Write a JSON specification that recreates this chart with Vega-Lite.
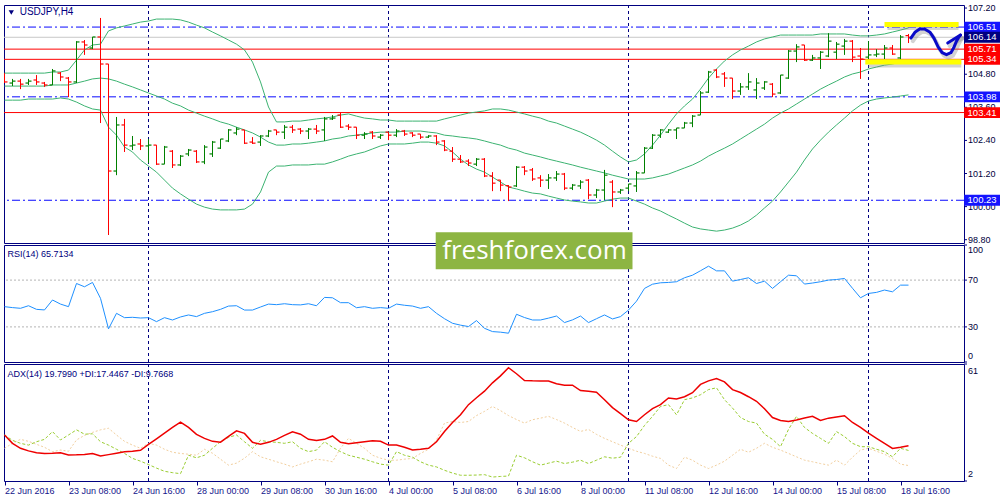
{
"$schema": "https://vega.github.io/schema/vega-lite/v6.json",
"background": "white",
"padding": {"left": 3, "top": 3, "right": 0, "bottom": 0},
"spacing": 2,
"bounds": "flush",
"config": {
  "font": "Liberation Sans",
  "view": {"stroke": "#000080", "strokeWidth": 1},
  "axis": {"labelFont": "Liberation Sans", "labelFontSize": 9, "labelColor": "#00003c", "tickColor": "#000080", "domain": false, "grid": false, "tickSize": 3, "labelPadding": 2}
},
"datasets": {
  "weeks": [{"i":18},{"i":48},{"i":78},{"i":108}],
  "rsilev": [{"v":70},{"v":30}],
  "pticks": [{"p":98.8},{"p":100},{"p":101.2},{"p":102.4},{"p":103.6},{"p":104.8},{"p":107.2}],
  "levels": [
    {"p":106.51,"k":"blue"},{"p":106.14,"k":"cur"},{"p":105.71,"k":"red"},{"p":105.34,"k":"red"},
    {"p":103.98,"k":"blue"},{"p":103.41,"k":"red"},{"p":100.23,"k":"blue"}
  ],
  "zones": [
    {"a":110,"b":119.25,"lo":106.51,"hi":106.69},
    {"a":107.6,"b":119.6,"lo":105.15,"hi":105.34}
  ],
  "arrow": [
    {"s":"c","o":0,"i":113.3,"p":106.11},{"s":"c","o":1,"i":113.8,"p":106.32},{"s":"c","o":2,"i":114.4,"p":106.44},
    {"s":"c","o":3,"i":115.0,"p":106.44},{"s":"c","o":4,"i":115.7,"p":106.32},{"s":"c","o":5,"i":116.2,"p":106.10},
    {"s":"c","o":6,"i":116.7,"p":105.79},{"s":"c","o":7,"i":117.2,"p":105.58},{"s":"c","o":8,"i":117.75,"p":105.51},
    {"s":"c","o":9,"i":118.3,"p":105.58},{"s":"c","o":10,"i":118.7,"p":105.79},{"s":"c","o":11,"i":119.0,"p":106.00},
    {"s":"c","o":12,"i":119.3,"p":106.15},{"s":"c","o":13,"i":119.5,"p":106.22},
    {"s":"w","o":0,"i":117.9,"p":105.93},{"s":"w","o":1,"i":119.5,"p":106.22}
  ],
  "bars": [
{"i":0,"o":104.59,"h":104.84,"l":104.48,"c":104.52,"bu":104.84,"bm":104.37,"bl":103.86,"rsi":47.3,"adx":25.2,"pdi":25.2,"mdi":18.5},
{"i":1,"o":104.48,"h":104.63,"l":104.37,"c":104.55,"bu":104.84,"bm":104.37,"bl":103.86,"rsi":46.5,"adx":21.0,"pdi":22.5,"mdi":21.0},
{"i":2,"o":104.55,"h":104.63,"l":104.26,"c":104.44,"bu":104.84,"bm":104.37,"bl":103.86,"rsi":45.9,"adx":18.5,"pdi":21.0,"mdi":23.0},
{"i":3,"o":104.48,"h":104.63,"l":104.41,"c":104.55,"bu":104.84,"bm":104.37,"bl":103.90,"rsi":48.1,"adx":17.2,"pdi":20.1,"mdi":22.0},
{"i":4,"o":104.59,"h":104.77,"l":104.41,"c":104.52,"bu":104.84,"bm":104.37,"bl":103.90,"rsi":45.0,"adx":16.2,"pdi":21.8,"mdi":20.5},
{"i":5,"o":104.48,"h":104.52,"l":104.34,"c":104.41,"bu":104.84,"bm":104.37,"bl":103.90,"rsi":44.5,"adx":15.9,"pdi":23.0,"mdi":19.0},
{"i":6,"o":104.41,"h":104.99,"l":104.41,"c":104.92,"bu":104.88,"bm":104.41,"bl":103.90,"rsi":53.0,"adx":16.0,"pdi":26.9,"mdi":16.8},
{"i":7,"o":104.84,"h":104.88,"l":104.55,"c":104.70,"bu":104.88,"bm":104.41,"bl":103.94,"rsi":49.5,"adx":16.2,"pdi":22.7,"mdi":17.6},
{"i":8,"o":104.66,"h":104.70,"l":103.97,"c":104.52,"bu":104.95,"bm":104.41,"bl":103.90,"rsi":47.3,"adx":15.1,"pdi":25.2,"mdi":17.0},
{"i":9,"o":104.52,"h":106.00,"l":104.48,"c":105.97,"bu":105.31,"bm":104.48,"bl":103.79,"rsi":67.1,"adx":15.2,"pdi":27.8,"mdi":22.7},
{"i":10,"o":105.97,"h":106.04,"l":105.50,"c":105.86,"bu":105.68,"bm":104.55,"bl":103.65,"rsi":64.3,"adx":15.4,"pdi":25.6,"mdi":25.0},
{"i":11,"o":105.75,"h":106.15,"l":105.71,"c":106.15,"bu":105.86,"bm":104.63,"bl":103.54,"rsi":68.0,"adx":15.9,"pdi":25.8,"mdi":26.5},
{"i":12,"o":106.15,"h":106.84,"l":103.03,"c":105.17,"bu":105.89,"bm":104.66,"bl":103.50,"rsi":54.4,"adx":14.6,"pdi":21.8,"mdi":27.8},
{"i":13,"o":105.17,"h":105.17,"l":98.97,"c":101.29,"bu":106.37,"bm":104.63,"bl":102.88,"rsi":28.3,"adx":15.3,"pdi":20.1,"mdi":28.6},
{"i":14,"o":101.29,"h":103.25,"l":101.14,"c":102.96,"bu":106.48,"bm":104.55,"bl":102.59,"rsi":41.6,"adx":16.0,"pdi":18.0,"mdi":25.2},
{"i":15,"o":102.96,"h":103.18,"l":101.98,"c":102.23,"bu":106.55,"bm":104.44,"bl":102.16,"rsi":37.9,"adx":16.7,"pdi":15.9,"mdi":22.0},
{"i":16,"o":102.20,"h":102.56,"l":102.05,"c":102.23,"bu":106.62,"bm":104.34,"bl":101.98,"rsi":38.2,"adx":17.0,"pdi":13.4,"mdi":20.1},
{"i":17,"o":102.27,"h":102.45,"l":102.05,"c":102.20,"bu":106.69,"bm":104.23,"bl":101.69,"rsi":37.6,"adx":17.5,"pdi":12.0,"mdi":18.5},
{"i":18,"o":102.20,"h":102.45,"l":101.58,"c":102.23,"bu":106.73,"bm":104.12,"bl":101.47,"rsi":37.9,"adx":20.5,"pdi":10.3,"mdi":21.0},
{"i":19,"o":102.23,"h":102.23,"l":101.51,"c":101.54,"bu":106.80,"bm":104.01,"bl":101.25,"rsi":34.5,"adx":23.3,"pdi":8.5,"mdi":20.1},
{"i":20,"o":101.54,"h":102.20,"l":101.54,"c":102.16,"bu":106.80,"bm":103.90,"bl":100.96,"rsi":37.9,"adx":26.1,"pdi":6.9,"mdi":18.0},
{"i":21,"o":102.01,"h":102.05,"l":101.40,"c":101.51,"bu":106.80,"bm":103.75,"bl":100.67,"rsi":35.9,"adx":29.0,"pdi":6.2,"mdi":16.5},
{"i":22,"o":101.51,"h":101.87,"l":101.47,"c":101.83,"bu":106.77,"bm":103.65,"bl":100.46,"rsi":38.5,"adx":31.7,"pdi":5.7,"mdi":15.9},
{"i":23,"o":101.91,"h":102.09,"l":101.83,"c":102.05,"bu":106.69,"bm":103.50,"bl":100.27,"rsi":40.2,"adx":29.0,"pdi":15.0,"mdi":15.5},
{"i":24,"o":102.01,"h":102.05,"l":101.58,"c":101.62,"bu":106.58,"bm":103.39,"bl":100.09,"rsi":38.8,"adx":25.5,"pdi":13.7,"mdi":15.0},
{"i":25,"o":101.62,"h":102.23,"l":101.54,"c":102.16,"bu":106.48,"bm":103.28,"bl":99.98,"rsi":41.6,"adx":23.5,"pdi":15.0,"mdi":18.0},
{"i":26,"o":101.91,"h":102.38,"l":101.80,"c":102.34,"bu":106.33,"bm":103.18,"bl":99.91,"rsi":43.0,"adx":22.0,"pdi":18.5,"mdi":16.0},
{"i":27,"o":102.12,"h":102.45,"l":102.09,"c":102.45,"bu":106.19,"bm":103.07,"bl":99.88,"rsi":45.0,"adx":21.6,"pdi":21.8,"mdi":13.0},
{"i":28,"o":102.38,"h":102.81,"l":102.34,"c":102.78,"bu":106.04,"bm":102.99,"bl":99.88,"rsi":47.8,"adx":24.5,"pdi":24.0,"mdi":10.0},
{"i":29,"o":102.67,"h":102.88,"l":102.59,"c":102.81,"bu":105.89,"bm":102.88,"bl":99.88,"rsi":48.1,"adx":27.3,"pdi":25.2,"mdi":11.0},
{"i":30,"o":102.78,"h":102.78,"l":102.27,"c":102.30,"bu":105.68,"bm":102.78,"bl":99.91,"rsi":44.4,"adx":26.0,"pdi":21.8,"mdi":13.5},
{"i":31,"o":102.34,"h":102.52,"l":102.27,"c":102.30,"bu":105.24,"bm":102.67,"bl":100.09,"rsi":44.4,"adx":21.5,"pdi":18.5,"mdi":16.8},
{"i":32,"o":102.34,"h":102.59,"l":102.20,"c":102.56,"bu":104.52,"bm":102.52,"bl":100.53,"rsi":47.0,"adx":20.5,"pdi":22.5,"mdi":14.2},
{"i":33,"o":102.56,"h":102.78,"l":102.52,"c":102.74,"bu":103.61,"bm":102.34,"bl":101.25,"rsi":49.5,"adx":21.5,"pdi":21.8,"mdi":13.0},
{"i":34,"o":102.78,"h":102.78,"l":102.59,"c":102.70,"bu":103.07,"bm":102.23,"bl":101.47,"rsi":49.0,"adx":23.0,"pdi":21.5,"mdi":11.7},
{"i":35,"o":102.70,"h":102.96,"l":102.45,"c":102.88,"bu":103.07,"bm":102.23,"bl":101.47,"rsi":49.8,"adx":25.0,"pdi":21.0,"mdi":10.5},
{"i":36,"o":102.88,"h":102.96,"l":102.67,"c":102.78,"bu":103.10,"bm":102.27,"bl":101.51,"rsi":49.0,"adx":26.8,"pdi":21.8,"mdi":9.1},
{"i":37,"o":102.81,"h":102.85,"l":102.63,"c":102.74,"bu":103.10,"bm":102.27,"bl":101.51,"rsi":48.8,"adx":25.6,"pdi":18.5,"mdi":10.5},
{"i":38,"o":102.74,"h":102.85,"l":102.45,"c":102.81,"bu":103.14,"bm":102.30,"bl":101.51,"rsi":49.8,"adx":23.0,"pdi":16.8,"mdi":11.7},
{"i":39,"o":102.81,"h":102.96,"l":102.63,"c":102.74,"bu":103.18,"bm":102.34,"bl":101.54,"rsi":48.1,"adx":22.4,"pdi":17.6,"mdi":13.0},
{"i":40,"o":102.78,"h":103.25,"l":102.38,"c":103.18,"bu":103.21,"bm":102.38,"bl":101.54,"rsi":55.2,"adx":23.0,"pdi":21.8,"mdi":12.5},
{"i":41,"o":103.18,"h":103.32,"l":103.14,"c":103.21,"bu":103.25,"bm":102.45,"bl":101.62,"rsi":54.9,"adx":24.7,"pdi":19.0,"mdi":11.7},
{"i":42,"o":103.32,"h":103.43,"l":102.85,"c":102.88,"bu":103.32,"bm":102.49,"bl":101.72,"rsi":50.7,"adx":21.5,"pdi":16.8,"mdi":18.5},
{"i":43,"o":102.92,"h":102.99,"l":102.78,"c":102.88,"bu":103.36,"bm":102.56,"bl":101.83,"rsi":50.7,"adx":20.8,"pdi":15.0,"mdi":23.5},
{"i":44,"o":102.88,"h":102.88,"l":102.45,"c":102.59,"bu":103.28,"bm":102.59,"bl":101.91,"rsi":46.4,"adx":21.3,"pdi":14.0,"mdi":21.0},
{"i":45,"o":102.59,"h":102.70,"l":102.45,"c":102.63,"bu":103.21,"bm":102.63,"bl":101.98,"rsi":47.3,"adx":21.8,"pdi":13.0,"mdi":18.5},
{"i":46,"o":102.70,"h":102.74,"l":102.45,"c":102.56,"bu":103.18,"bm":102.67,"bl":102.09,"rsi":45.9,"adx":22.3,"pdi":11.7,"mdi":15.0},
{"i":47,"o":102.52,"h":102.63,"l":102.45,"c":102.59,"bu":103.14,"bm":102.70,"bl":102.20,"rsi":46.5,"adx":22.0,"pdi":10.5,"mdi":13.5},
{"i":48,"o":102.70,"h":102.70,"l":102.41,"c":102.59,"bu":103.14,"bm":102.70,"bl":102.27,"rsi":45.9,"adx":20.1,"pdi":10.0,"mdi":12.5},
{"i":49,"o":102.59,"h":102.81,"l":102.52,"c":102.74,"bu":103.10,"bm":102.70,"bl":102.27,"rsi":49.5,"adx":20.1,"pdi":16.8,"mdi":12.5},
{"i":50,"o":102.74,"h":102.78,"l":102.56,"c":102.63,"bu":103.10,"bm":102.74,"bl":102.27,"rsi":48.5,"adx":19.0,"pdi":15.0,"mdi":13.0},
{"i":51,"o":102.67,"h":102.70,"l":102.52,"c":102.59,"bu":103.10,"bm":102.74,"bl":102.30,"rsi":47.8,"adx":17.6,"pdi":14.0,"mdi":13.4},
{"i":52,"o":102.63,"h":102.63,"l":102.45,"c":102.52,"bu":103.10,"bm":102.74,"bl":102.34,"rsi":45.9,"adx":18.0,"pdi":11.7,"mdi":15.9},
{"i":53,"o":102.52,"h":102.59,"l":102.49,"c":102.56,"bu":103.10,"bm":102.70,"bl":102.34,"rsi":47.3,"adx":18.5,"pdi":10.0,"mdi":18.0},
{"i":54,"o":102.56,"h":102.59,"l":102.23,"c":102.34,"bu":103.10,"bm":102.67,"bl":102.30,"rsi":41.6,"adx":21.8,"pdi":9.1,"mdi":22.7},
{"i":55,"o":102.38,"h":102.41,"l":102.01,"c":102.05,"bu":103.18,"bm":102.59,"bl":102.20,"rsi":37.0,"adx":27.0,"pdi":7.4,"mdi":31.2},
{"i":56,"o":102.01,"h":102.16,"l":101.62,"c":101.72,"bu":103.25,"bm":102.56,"bl":101.98,"rsi":33.1,"adx":31.5,"pdi":6.0,"mdi":32.0},
{"i":57,"o":101.72,"h":101.87,"l":101.58,"c":101.62,"bu":103.32,"bm":102.52,"bl":101.72,"rsi":31.5,"adx":35.4,"pdi":4.9,"mdi":31.5},
{"i":58,"o":101.65,"h":101.72,"l":101.47,"c":101.58,"bu":103.39,"bm":102.49,"bl":101.51,"rsi":30.3,"adx":40.5,"pdi":4.9,"mdi":32.0},
{"i":59,"o":101.54,"h":101.76,"l":101.47,"c":101.72,"bu":103.43,"bm":102.45,"bl":101.36,"rsi":35.4,"adx":44.0,"pdi":5.0,"mdi":35.0},
{"i":60,"o":101.72,"h":101.76,"l":101.07,"c":101.11,"bu":103.47,"bm":102.38,"bl":101.25,"rsi":28.8,"adx":47.3,"pdi":5.2,"mdi":37.1},
{"i":61,"o":101.11,"h":101.25,"l":100.56,"c":100.85,"bu":103.54,"bm":102.30,"bl":101.07,"rsi":26.0,"adx":51.5,"pdi":4.0,"mdi":39.6},
{"i":62,"o":100.96,"h":100.96,"l":100.56,"c":100.78,"bu":103.54,"bm":102.23,"bl":100.89,"rsi":25.5,"adx":55.0,"pdi":4.3,"mdi":37.5},
{"i":63,"o":100.76,"h":100.78,"l":100.20,"c":100.71,"bu":103.50,"bm":102.12,"bl":100.71,"rsi":24.6,"adx":59.1,"pdi":4.5,"mdi":35.0},
{"i":64,"o":100.75,"h":101.47,"l":100.71,"c":101.43,"bu":103.43,"bm":102.05,"bl":100.64,"rsi":40.8,"adx":56.1,"pdi":15.0,"mdi":33.0},
{"i":65,"o":101.43,"h":101.47,"l":101.14,"c":101.29,"bu":103.36,"bm":101.94,"bl":100.56,"rsi":38.0,"adx":52.7,"pdi":13.7,"mdi":31.2},
{"i":66,"o":101.33,"h":101.40,"l":100.93,"c":101.00,"bu":103.28,"bm":101.87,"bl":100.49,"rsi":35.9,"adx":52.5,"pdi":11.7,"mdi":32.9},
{"i":67,"o":101.04,"h":101.14,"l":100.71,"c":100.96,"bu":103.21,"bm":101.80,"bl":100.46,"rsi":35.9,"adx":52.4,"pdi":10.0,"mdi":33.7},
{"i":68,"o":100.96,"h":101.18,"l":100.64,"c":101.04,"bu":103.10,"bm":101.72,"bl":100.38,"rsi":37.5,"adx":52.4,"pdi":11.0,"mdi":34.6},
{"i":69,"o":101.04,"h":101.29,"l":100.93,"c":101.18,"bu":103.03,"bm":101.65,"bl":100.31,"rsi":39.3,"adx":51.0,"pdi":12.0,"mdi":33.0},
{"i":70,"o":101.18,"h":101.22,"l":100.60,"c":100.67,"bu":102.92,"bm":101.58,"bl":100.24,"rsi":33.7,"adx":50.3,"pdi":10.8,"mdi":31.2},
{"i":71,"o":100.67,"h":100.82,"l":100.60,"c":100.78,"bu":102.81,"bm":101.51,"bl":100.20,"rsi":36.0,"adx":50.3,"pdi":11.5,"mdi":29.0},
{"i":72,"o":100.75,"h":100.96,"l":100.64,"c":100.89,"bu":102.70,"bm":101.43,"bl":100.17,"rsi":39.3,"adx":47.6,"pdi":12.5,"mdi":27.0},
{"i":73,"o":100.96,"h":101.00,"l":100.27,"c":100.42,"bu":102.56,"bm":101.36,"bl":100.13,"rsi":33.7,"adx":47.2,"pdi":10.8,"mdi":28.0},
{"i":74,"o":100.42,"h":100.64,"l":100.31,"c":100.60,"bu":102.41,"bm":101.29,"bl":100.13,"rsi":37.0,"adx":46.8,"pdi":12.5,"mdi":25.5},
{"i":75,"o":100.60,"h":101.33,"l":100.24,"c":101.14,"bu":102.23,"bm":101.22,"bl":100.20,"rsi":40.2,"adx":43.0,"pdi":14.2,"mdi":23.5},
{"i":76,"o":100.89,"h":100.96,"l":99.98,"c":100.53,"bu":102.01,"bm":101.14,"bl":100.27,"rsi":36.8,"adx":39.0,"pdi":13.5,"mdi":21.8},
{"i":77,"o":100.53,"h":100.64,"l":100.46,"c":100.60,"bu":101.80,"bm":101.07,"bl":100.31,"rsi":38.8,"adx":36.0,"pdi":14.0,"mdi":20.1},
{"i":78,"o":100.67,"h":100.82,"l":100.56,"c":100.82,"bu":101.62,"bm":101.00,"bl":100.31,"rsi":44.4,"adx":32.9,"pdi":21.0,"mdi":18.5},
{"i":79,"o":100.75,"h":101.29,"l":100.53,"c":101.22,"bu":101.69,"bm":101.00,"bl":100.20,"rsi":52.0,"adx":32.0,"pdi":24.4,"mdi":17.0},
{"i":80,"o":101.22,"h":102.16,"l":101.22,"c":102.12,"bu":101.91,"bm":101.00,"bl":100.09,"rsi":62.9,"adx":35.4,"pdi":30.0,"mdi":15.9},
{"i":81,"o":102.12,"h":102.63,"l":102.09,"c":102.59,"bu":102.23,"bm":101.04,"bl":99.95,"rsi":66.5,"adx":38.5,"pdi":34.6,"mdi":14.5},
{"i":82,"o":102.59,"h":102.81,"l":102.49,"c":102.78,"bu":102.59,"bm":101.11,"bl":99.84,"rsi":67.7,"adx":40.5,"pdi":39.6,"mdi":13.4},
{"i":83,"o":102.70,"h":102.81,"l":102.67,"c":102.78,"bu":102.99,"bm":101.18,"bl":99.69,"rsi":68.0,"adx":43.9,"pdi":40.5,"mdi":10.0},
{"i":84,"o":102.78,"h":102.85,"l":102.45,"c":102.85,"bu":103.36,"bm":101.29,"bl":99.55,"rsi":68.6,"adx":43.4,"pdi":35.4,"mdi":8.3},
{"i":85,"o":102.85,"h":103.07,"l":102.85,"c":103.03,"bu":103.65,"bm":101.40,"bl":99.40,"rsi":72.0,"adx":44.5,"pdi":43.0,"mdi":14.0},
{"i":86,"o":103.03,"h":103.32,"l":102.88,"c":103.28,"bu":103.90,"bm":101.51,"bl":99.26,"rsi":74.2,"adx":46.5,"pdi":43.9,"mdi":12.5},
{"i":87,"o":103.32,"h":104.19,"l":103.32,"c":104.12,"bu":104.26,"bm":101.65,"bl":99.19,"rsi":78.0,"adx":50.7,"pdi":45.5,"mdi":10.0},
{"i":88,"o":104.15,"h":104.92,"l":104.12,"c":104.88,"bu":104.66,"bm":101.83,"bl":99.15,"rsi":81.9,"adx":52.5,"pdi":48.1,"mdi":8.3},
{"i":89,"o":104.95,"h":104.99,"l":104.66,"c":104.70,"bu":104.99,"bm":101.98,"bl":99.11,"rsi":77.9,"adx":53.7,"pdi":49.0,"mdi":10.0},
{"i":90,"o":104.81,"h":104.88,"l":104.34,"c":104.66,"bu":105.28,"bm":102.12,"bl":99.15,"rsi":77.9,"adx":52.0,"pdi":43.0,"mdi":12.0},
{"i":91,"o":104.66,"h":104.66,"l":103.90,"c":104.19,"bu":105.50,"bm":102.27,"bl":99.22,"rsi":69.1,"adx":48.1,"pdi":38.8,"mdi":15.0},
{"i":92,"o":104.19,"h":104.48,"l":104.05,"c":104.34,"bu":105.68,"bm":102.45,"bl":99.33,"rsi":70.5,"adx":46.6,"pdi":34.0,"mdi":18.0},
{"i":93,"o":104.34,"h":104.84,"l":104.23,"c":104.52,"bu":105.82,"bm":102.63,"bl":99.48,"rsi":72.0,"adx":44.5,"pdi":32.0,"mdi":16.5},
{"i":94,"o":104.23,"h":104.66,"l":103.90,"c":104.48,"bu":105.97,"bm":102.81,"bl":99.69,"rsi":67.1,"adx":42.2,"pdi":31.2,"mdi":18.5},
{"i":95,"o":104.30,"h":104.55,"l":104.23,"c":104.52,"bu":106.08,"bm":102.99,"bl":99.95,"rsi":69.1,"adx":38.4,"pdi":25.6,"mdi":21.0},
{"i":96,"o":104.44,"h":104.48,"l":103.97,"c":104.08,"bu":106.15,"bm":103.21,"bl":100.20,"rsi":62.9,"adx":34.0,"pdi":23.0,"mdi":19.0},
{"i":97,"o":104.12,"h":104.77,"l":104.08,"c":104.77,"bu":106.22,"bm":103.39,"bl":100.53,"rsi":68.6,"adx":32.5,"pdi":19.3,"mdi":17.6},
{"i":98,"o":104.66,"h":105.68,"l":104.63,"c":105.64,"bu":106.22,"bm":103.54,"bl":100.89,"rsi":74.2,"adx":32.0,"pdi":28.0,"mdi":15.9},
{"i":99,"o":105.64,"h":105.89,"l":105.24,"c":105.79,"bu":106.22,"bm":103.72,"bl":101.25,"rsi":73.7,"adx":32.8,"pdi":34.6,"mdi":14.2},
{"i":100,"o":105.86,"h":105.86,"l":105.28,"c":105.31,"bu":106.22,"bm":103.90,"bl":101.69,"rsi":66.6,"adx":33.8,"pdi":29.0,"mdi":12.5},
{"i":101,"o":105.31,"h":105.50,"l":105.28,"c":105.39,"bu":106.22,"bm":104.08,"bl":102.09,"rsi":67.5,"adx":34.6,"pdi":26.0,"mdi":11.7},
{"i":102,"o":105.39,"h":105.64,"l":104.99,"c":105.60,"bu":106.26,"bm":104.26,"bl":102.41,"rsi":68.6,"adx":32.5,"pdi":23.5,"mdi":10.8},
{"i":103,"o":105.46,"h":106.29,"l":105.42,"c":106.00,"bu":106.26,"bm":104.41,"bl":102.70,"rsi":70.0,"adx":33.7,"pdi":21.0,"mdi":10.0},
{"i":104,"o":105.60,"h":105.97,"l":105.35,"c":105.89,"bu":106.26,"bm":104.55,"bl":102.96,"rsi":70.5,"adx":34.3,"pdi":26.9,"mdi":12.5},
{"i":105,"o":105.82,"h":106.08,"l":105.50,"c":106.00,"bu":106.26,"bm":104.70,"bl":103.21,"rsi":71.4,"adx":34.9,"pdi":24.4,"mdi":10.0},
{"i":106,"o":106.00,"h":106.04,"l":105.24,"c":105.42,"bu":106.22,"bm":104.81,"bl":103.47,"rsi":63.0,"adx":31.5,"pdi":21.0,"mdi":14.0},
{"i":107,"o":105.46,"h":105.75,"l":104.63,"c":105.35,"bu":106.19,"bm":104.88,"bl":103.68,"rsi":54.9,"adx":29.0,"pdi":19.3,"mdi":17.6},
{"i":108,"o":105.42,"h":106.00,"l":105.35,"c":105.50,"bu":106.19,"bm":104.99,"bl":103.83,"rsi":58.6,"adx":26.1,"pdi":19.3,"mdi":18.5},
{"i":109,"o":105.50,"h":105.71,"l":105.42,"c":105.53,"bu":106.22,"bm":105.06,"bl":103.90,"rsi":59.5,"adx":23.5,"pdi":18.0,"mdi":17.0},
{"i":110,"o":105.53,"h":105.86,"l":105.35,"c":105.75,"bu":106.26,"bm":105.13,"bl":103.94,"rsi":61.5,"adx":21.0,"pdi":16.8,"mdi":15.5},
{"i":111,"o":105.75,"h":105.86,"l":105.50,"c":105.53,"bu":106.33,"bm":105.17,"bl":103.97,"rsi":60.0,"adx":18.4,"pdi":14.2,"mdi":13.4},
{"i":112,"o":105.39,"h":106.22,"l":105.21,"c":106.15,"bu":106.40,"bm":105.24,"bl":104.01,"rsi":65.7,"adx":19.0,"pdi":18.5,"mdi":10.5},
{"i":113,"o":106.20,"h":106.26,"l":105.93,"c":106.14,"bu":106.48,"bm":105.28,"bl":104.05,"rsi":65.7,"adx":19.8,"pdi":17.4,"mdi":9.8}
  ]
},
"vconcat": [
{
  "width": 960, "height": 238,
  "layer": [
    {"data": {"name": "weeks"}, "mark": {"type": "rule", "color": "#000080", "strokeDash": [3, 3], "strokeWidth": 1, "clip": true},
     "encoding": {"x": {"field": "i", "type": "quantitative", "scale": {"domain": [-0.0625, 119.9375], "nice": false, "zero": false}, "axis": null}}},
    {"data": {"name": "levels"}, "transform": [{"filter": "datum.k == 'cur'"}], "mark": {"type": "rule", "color": "#c8c8c8", "strokeWidth": 1, "clip": true},
     "encoding": {"y": {"field": "p", "type": "quantitative", "scale": {"domain": [98.68, 107.31], "nice": false, "zero": false}, "axis": null}}},
    {"data": {"name": "levels"}, "transform": [{"filter": "datum.k == 'blue'"}], "mark": {"type": "rule", "color": "#0a0aff", "strokeWidth": 1, "strokeDash": [8, 3, 2, 3], "clip": true},
     "encoding": {"y": {"field": "p", "type": "quantitative", "axis": null}}},
    {"data": {"name": "levels"}, "transform": [{"filter": "datum.k == 'red'"}], "mark": {"type": "rule", "color": "#ff0000", "strokeWidth": 1, "clip": true},
     "encoding": {"y": {"field": "p", "type": "quantitative", "axis": null}}},
    {"data": {"name": "pticks"}, "mark": {"type": "point", "shape": "M0,0H1", "size": 36, "filled": false, "opacity": 1, "strokeWidth": 1, "color": "#000080"},
     "encoding": {"x": {"datum": 119.9375, "type": "quantitative", "axis": null}, "y": {"field": "p", "type": "quantitative", "axis": null}}},
    {"data": {"name": "pticks"}, "mark": {"type": "text", "align": "left", "baseline": "middle", "fontSize": 9, "color": "#00003c", "font": "Liberation Sans"},
     "encoding": {"x": {"datum": 120.45, "type": "quantitative", "axis": null}, "y": {"field": "p", "type": "quantitative", "axis": null},
       "text": {"field": "p", "type": "quantitative", "format": ".2f"}}},
    {"data": {"name": "bars"}, "mark": {"type": "line", "color": "#3cb371", "strokeWidth": 1, "clip": true},
     "encoding": {"x": {"field": "i", "type": "quantitative", "axis": null}, "y": {"field": "bu", "type": "quantitative", "axis": null}}},
    {"data": {"name": "bars"}, "mark": {"type": "line", "color": "#3cb371", "strokeWidth": 1, "clip": true},
     "encoding": {"x": {"field": "i", "type": "quantitative", "axis": null}, "y": {"field": "bm", "type": "quantitative", "axis": null}}},
    {"data": {"name": "bars"}, "mark": {"type": "line", "color": "#3cb371", "strokeWidth": 1, "clip": true},
     "encoding": {"x": {"field": "i", "type": "quantitative", "axis": null}, "y": {"field": "bl", "type": "quantitative", "axis": null}}},
    {"data": {"name": "bars"}, "mark": {"type": "rule", "strokeWidth": 1, "clip": true},
     "encoding": {"x": {"field": "i", "type": "quantitative", "axis": null}, "y": {"field": "l", "type": "quantitative", "axis": null}, "y2": {"field": "h"},
       "color": {"condition": {"test": "datum.c >= datum.o", "value": "#008000"}, "value": "#ff0000"}}},
    {"data": {"name": "bars"}, "mark": {"type": "point", "shape": "M-1,0H0", "size": 36, "filled": false, "opacity": 1, "strokeWidth": 1.2, "clip": true},
     "encoding": {"x": {"field": "i", "type": "quantitative", "axis": null}, "y": {"field": "o", "type": "quantitative", "axis": null},
       "color": {"condition": {"test": "datum.c >= datum.o", "value": "#008000"}, "value": "#ff0000"}}},
    {"data": {"name": "bars"}, "mark": {"type": "point", "shape": "M0,0H1", "size": 36, "filled": false, "opacity": 1, "strokeWidth": 1.2, "clip": true},
     "encoding": {"x": {"field": "i", "type": "quantitative", "axis": null}, "y": {"field": "c", "type": "quantitative", "axis": null},
       "color": {"condition": {"test": "datum.c >= datum.o", "value": "#008000"}, "value": "#ff0000"}}},
    {"data": {"name": "zones"}, "mark": {"type": "rect", "color": "#808080", "opacity": 0.35, "xOffset": 3, "yOffset": 3, "clip": true},
     "encoding": {"x": {"field": "a", "type": "quantitative", "axis": null}, "x2": {"field": "b"}, "y": {"field": "lo", "type": "quantitative", "axis": null}, "y2": {"field": "hi"}}},
    {"data": {"name": "zones"}, "mark": {"type": "rect", "color": "#ffff00", "opacity": 1, "clip": true},
     "encoding": {"x": {"field": "a", "type": "quantitative", "axis": null}, "x2": {"field": "b"}, "y": {"field": "lo", "type": "quantitative", "axis": null}, "y2": {"field": "hi"}}},
    {"data": {"name": "arrow"}, "mark": {"type": "line", "color": "#808080", "opacity": 0.35, "strokeWidth": 4, "xOffset": 2, "yOffset": 3, "strokeCap": "round", "clip": true},
     "encoding": {"x": {"field": "i", "type": "quantitative", "axis": null}, "y": {"field": "p", "type": "quantitative", "axis": null}, "detail": {"field": "s"}, "order": {"field": "o"}}},
    {"data": {"name": "arrow"}, "mark": {"type": "line", "color": "#0a0ac8", "strokeWidth": 3, "strokeCap": "round", "strokeJoin": "round", "clip": true},
     "encoding": {"x": {"field": "i", "type": "quantitative", "axis": null}, "y": {"field": "p", "type": "quantitative", "axis": null}, "detail": {"field": "s"}, "order": {"field": "o"}}},
    {"data": {"name": "levels"}, "mark": {"type": "point", "shape": "M-1,-0.3H1V0.3H-1Z", "size": 1296, "filled": true, "opacity": 1},
     "encoding": {"x": {"datum": 122.2, "type": "quantitative", "axis": null}, "y": {"field": "p", "type": "quantitative", "axis": null},
       "color": {"field": "k", "type": "nominal", "scale": {"domain": ["blue", "red", "cur"], "range": ["#1414ff", "#ff0000", "#000080"]}, "legend": null}}},
    {"data": {"name": "levels"}, "mark": {"type": "text", "color": "white", "fontSize": 9.5, "align": "center", "baseline": "middle", "font": "Liberation Sans"},
     "encoding": {"x": {"datum": 122.2, "type": "quantitative", "axis": null}, "y": {"field": "p", "type": "quantitative", "axis": null},
       "text": {"field": "p", "type": "quantitative", "format": ".2f"}}},
    {"data": {"values": [{}]}, "mark": {"type": "point", "shape": "triangle-down", "size": 28, "filled": true, "opacity": 1, "color": "#000080", "clip": true},
     "encoding": {"x": {"datum": 0.85, "type": "quantitative", "axis": null}, "y": {"datum": 107.04, "type": "quantitative", "axis": null}}},
    {"data": {"values": [{}]}, "mark": {"type": "text", "text": "USDJPY,H4", "align": "left", "baseline": "middle", "fontSize": 10, "color": "#000080", "clip": true},
     "encoding": {"x": {"datum": 1.9, "type": "quantitative", "axis": null}, "y": {"datum": 107.04, "type": "quantitative", "axis": null}}}
  ]
},
{
  "width": 960, "height": 117,
  "layer": [
    {"data": {"name": "weeks"}, "mark": {"type": "rule", "color": "#000080", "strokeDash": [3, 3], "strokeWidth": 1, "clip": true},
     "encoding": {"x": {"field": "i", "type": "quantitative", "scale": {"domain": [-0.0625, 119.9375], "nice": false, "zero": false}, "axis": null}}},
    {"data": {"name": "rsilev"}, "mark": {"type": "rule", "color": "#b4b4b4", "strokeDash": [2, 2], "strokeWidth": 1, "clip": true},
     "encoding": {"y": {"field": "v", "type": "quantitative", "scale": {"domain": [0, 100], "nice": false, "zero": false}, "axis": null}}},
    {"data": {"name": "bars"}, "mark": {"type": "line", "color": "#1e90ff", "strokeWidth": 1, "clip": true},
     "encoding": {"x": {"field": "i", "type": "quantitative", "axis": null}, "y": {"field": "rsi", "type": "quantitative", "axis": null}}},
    {"data": {"values": [{"v":100},{"v":70},{"v":30},{"v":0}]}, "mark": {"type": "point", "shape": "M0,0H1", "size": 36, "filled": false, "opacity": 1, "strokeWidth": 1, "color": "#000080"},
     "encoding": {"x": {"datum": 119.9375, "type": "quantitative", "axis": null}, "y": {"field": "v", "type": "quantitative", "axis": null}}},
    {"data": {"name": "rsilev"}, "mark": {"type": "text", "align": "left", "baseline": "middle", "fontSize": 9, "color": "#00003c"},
     "encoding": {"x": {"datum": 120.45, "type": "quantitative", "axis": null}, "y": {"field": "v", "type": "quantitative", "axis": null}, "text": {"field": "v", "type": "quantitative"}}},
    {"data": {"values": [{}]}, "mark": {"type": "text", "text": "100", "align": "left", "baseline": "top", "fontSize": 9, "color": "#00003c"},
     "encoding": {"x": {"datum": 120.45, "type": "quantitative", "axis": null}, "y": {"datum": 99, "type": "quantitative", "axis": null}}},
    {"data": {"values": [{}]}, "mark": {"type": "text", "text": "0", "align": "left", "baseline": "bottom", "fontSize": 9, "color": "#00003c"},
     "encoding": {"x": {"datum": 120.45, "type": "quantitative", "axis": null}, "y": {"datum": 1, "type": "quantitative", "axis": null}}},
    {"data": {"values": [{}]}, "mark": {"type": "text", "text": "RSI(14) 65.7134", "align": "left", "baseline": "middle", "fontSize": 9, "color": "#000080", "clip": true},
     "encoding": {"x": {"datum": 0.375, "type": "quantitative", "axis": null}, "y": {"datum": 92.3, "type": "quantitative", "axis": null}}},
    {"data": {"values": [{}]}, "mark": {"type": "rect", "color": "#8db542", "opacity": 1},
     "encoding": {"x": {"datum": 53.9, "type": "quantitative", "axis": null}, "x2": {"datum": 78.5}, "y": {"datum": 111, "type": "quantitative", "axis": null}, "y2": {"datum": 79.3}}},
    {"data": {"values": [{}]}, "mark": {"type": "text", "text": "freshforex.com", "align": "center", "baseline": "alphabetic", "fontSize": 26, "font": "Open Sans", "color": "white"},
     "encoding": {"x": {"datum": 66.25, "type": "quantitative", "axis": null}, "y": {"datum": 88.3, "type": "quantitative", "axis": null}}}
  ]
},
{
  "width": 960, "height": 117,
  "layer": [
    {"data": {"name": "weeks"}, "mark": {"type": "rule", "color": "#000080", "strokeDash": [3, 3], "strokeWidth": 1, "clip": true},
     "encoding": {"x": {"field": "i", "type": "quantitative", "scale": {"domain": [-0.0625, 119.9375], "nice": false, "zero": false},
       "axis": {"values": [0, 8, 16, 24, 32, 40, 48, 56, 64, 72, 80, 88, 96, 104, 112], "labelAlign": "left", "tickSize": 4, "labelPadding": 1, "title": null, "labelColor": "#14148c",
         "labelExpr": "['22 Jun 2016','23 Jun 08:00','24 Jun 16:00','28 Jun 00:00','29 Jun 08:00','30 Jun 16:00','4 Jul 00:00','5 Jul 08:00','6 Jul 16:00','8 Jul 00:00','11 Jul 08:00','12 Jul 16:00','14 Jul 00:00','15 Jul 08:00','18 Jul 16:00'][round(datum.value / 8)]"}}}},
    {"data": {"name": "bars"}, "mark": {"type": "line", "color": "#f2cf9e", "strokeWidth": 1, "strokeDash": [2, 2], "clip": true},
     "encoding": {"x": {"field": "i", "type": "quantitative"}, "y": {"field": "mdi", "type": "quantitative", "scale": {"domain": [2, 61], "nice": false, "zero": false}, "axis": null}}},
    {"data": {"name": "bars"}, "mark": {"type": "line", "color": "#9acd32", "strokeWidth": 1, "strokeDash": [3, 2], "clip": true},
     "encoding": {"x": {"field": "i", "type": "quantitative"}, "y": {"field": "pdi", "type": "quantitative", "axis": null}}},
    {"data": {"name": "bars"}, "mark": {"type": "line", "color": "#ee0000", "strokeWidth": 1.5, "clip": true},
     "encoding": {"x": {"field": "i", "type": "quantitative"}, "y": {"field": "adx", "type": "quantitative", "axis": null}}},
    {"data": {"values": [{"v":61},{"v":2}]}, "mark": {"type": "point", "shape": "M0,0H1", "size": 36, "filled": false, "opacity": 1, "strokeWidth": 1, "color": "#000080"},
     "encoding": {"x": {"datum": 119.9375, "type": "quantitative"}, "y": {"field": "v", "type": "quantitative", "axis": null}}},
    {"data": {"values": [{}]}, "mark": {"type": "text", "text": "61", "align": "left", "baseline": "top", "fontSize": 9, "color": "#00003c"},
     "encoding": {"x": {"datum": 120.45, "type": "quantitative"}, "y": {"datum": 59.5, "type": "quantitative", "axis": null}}},
    {"data": {"values": [{}]}, "mark": {"type": "text", "text": "2", "align": "left", "baseline": "bottom", "fontSize": 9, "color": "#00003c"},
     "encoding": {"x": {"datum": 120.45, "type": "quantitative"}, "y": {"datum": 3, "type": "quantitative", "axis": null}}},
    {"data": {"values": [{}]}, "mark": {"type": "text", "text": "ADX(14) 19.7990 +DI:17.4467 -DI:9.7668", "align": "left", "baseline": "middle", "fontSize": 9, "color": "#000080", "clip": true},
     "encoding": {"x": {"datum": 0.375, "type": "quantitative"}, "y": {"datum": 55.96, "type": "quantitative", "axis": null}}}
  ]
}
]
}
